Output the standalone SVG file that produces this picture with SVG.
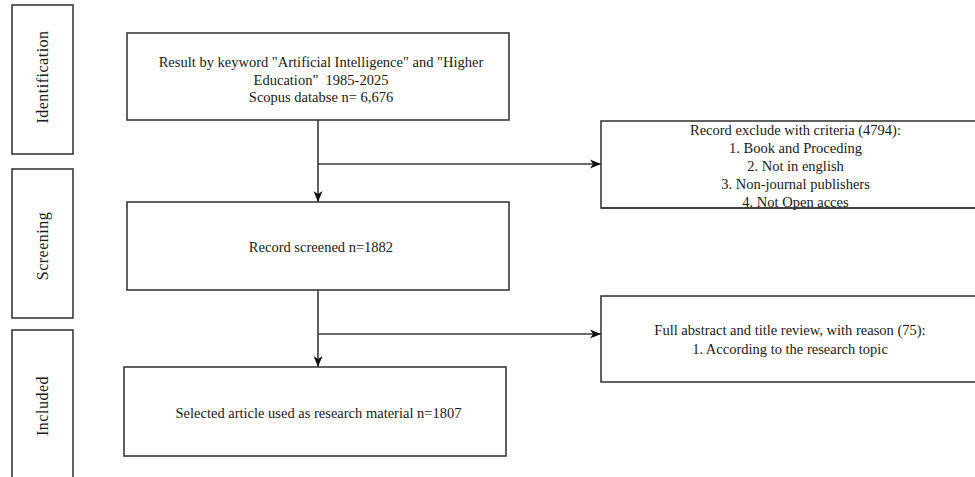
<svg xmlns="http://www.w3.org/2000/svg" width="975" height="477" viewBox="0 0 975 477">
  <style>
    .box { fill: #ffffff; stroke: #3a3a3a; stroke-width: 1.6; }
    .t { font-family: "Liberation Serif", "Times New Roman", serif; font-size: 14.5px; fill: #1a1a1a; text-anchor: middle; }
    .lbl { font-family: "Liberation Serif", "Times New Roman", serif; font-size: 16px; fill: #1a1a1a; text-anchor: middle; letter-spacing: 0.5px; }
    .edge { fill: none; stroke: #3a3a3a; stroke-width: 1.6; }
  </style>
  <defs>
    <marker id="arrow" markerUnits="userSpaceOnUse" markerWidth="12" markerHeight="10" refX="11" refY="5" orient="auto">
      <path d="M0,0.5 L11,5 L0,9.5 L3,5 Z" fill="#111111"/>
    </marker>
  </defs>
  <rect width="975" height="477" fill="#ffffff"/>

  <g id="identification">
    <rect class="box" x="12" y="5" width="61" height="149"/>
    <text class="lbl" transform="translate(48,77) rotate(-90)">Identification</text>
  </g>
  <g id="screening">
    <rect class="box" x="12" y="169" width="61" height="149"/>
    <text class="lbl" transform="translate(48,246) rotate(-90)">Screening</text>
  </g>
  <g id="included">
    <rect class="box" x="12" y="330" width="61" height="160"/>
    <text class="lbl" transform="translate(48,406) rotate(-90)">Included</text>
  </g>

  <g id="connectors">
    <path class="edge" d="M318,120 L318,202" marker-end="url(#arrow)"/>
    <path class="edge" d="M318,164 L601,164" marker-end="url(#arrow)"/>
    <path class="edge" d="M318,290 L318,367" marker-end="url(#arrow)"/>
    <path class="edge" d="M318,334 L601,334" marker-end="url(#arrow)"/>
  </g>

  <g id="result">
    <rect class="box" x="127" y="33" width="382" height="87"/>
    <text class="t" x="321" y="67">Result by keyword "Artificial Intelligence" and "Higher</text>
    <text class="t" x="321" y="84.5">Education"&#160; 1985-2025</text>
    <text class="t" x="321" y="102">Scopus databse n= 6,676</text>
  </g>

  <g id="screened">
    <rect class="box" x="127" y="202" width="382" height="88"/>
    <text class="t" x="321" y="252">Record screened n=1882</text>
  </g>

  <g id="selected">
    <rect class="box" x="124" y="367" width="382" height="89"/>
    <text class="t" x="318.5" y="418">Selected article used as research material n=1807</text>
  </g>

  <g id="excluded">
    <rect class="box" x="601" y="121" width="390" height="87"/>
    <text class="t" x="795.5" y="135">Record exclude with criteria (4794):</text>
    <text class="t" x="795.5" y="153">1. Book and Proceding</text>
    <text class="t" x="795.5" y="171">2. Not in english</text>
    <text class="t" x="795.5" y="188.5">3. Non-journal publishers</text>
    <text class="t" x="795.5" y="207">4. Not Open acces</text>
    <line x1="601" y1="208" x2="975" y2="208" stroke="#3a3a3a" stroke-width="1.6"/>
  </g>

  <g id="review">
    <rect class="box" x="601" y="296" width="390" height="86"/>
    <text class="t" x="790" y="335">Full abstract and title review, with reason (75):</text>
    <text class="t" x="790" y="354">1. According to the research topic</text>
  </g>
</svg>
